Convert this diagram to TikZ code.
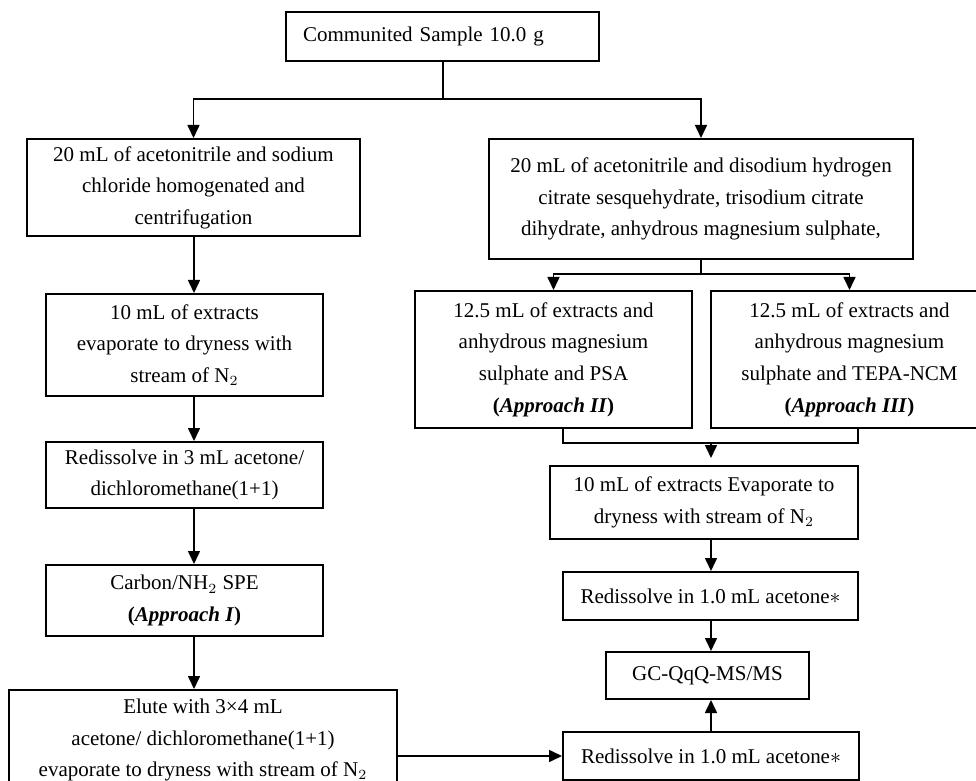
\documentclass[tikz,border=0pt]{standalone}
\usepackage{fontspec}
\setmainfont{Liberation Serif}
\usepackage{tikz}
\usetikzlibrary{arrows.meta,positioning,calc}

\begin{document}
\begin{tikzpicture}[x=0.5pt, y=-0.5pt,
        stepbox/.style={draw, line width=1pt, align=center, inner sep=2pt,
            font=\fontsize{10.5}{15.8}\selectfont},
        flow/.style={line width=0.8pt},
        flowarrow/.style={flow, -{Triangle[length=6.5pt,width=6pt]}}]
    \useasboundingbox (0,0) rectangle (976,781);
    \clip (0,0) rectangle (976,781);

    % sample
    \node[stepbox, minimum width=156.5pt, minimum height=24.5pt, text width=139.5pt,
        align=left, inner xsep=8.5pt] (sample) at (442.5,36.5) {Communited Sample 10.0 g};

    % left branch (Approach I)
    \node[stepbox, minimum width=166.5pt, minimum height=48.5pt] (acnacl) at (193.5,187.5)
        {20 mL of acetonitrile and sodium\\chloride homogenated and\\centrifugation};
    \node[stepbox, minimum width=138.5pt, minimum height=51pt] (evapleft) at (184.5,345)
        {10 mL of extracts\\evaporate to dryness with\\stream of N$_2$};
    \node[stepbox, minimum width=138.5pt, minimum height=33pt] (redissleft) at (184.5,475)
        {Redissolve in 3 mL acetone/\\dichloromethane(1+1)};
    \node[stepbox, minimum width=138.5pt, minimum height=35.5pt] (spe) at (184.5,600.5)
        {Carbon/NH$_2$ SPE\\\textbf{(\textit{Approach I})}};
    \node[stepbox, minimum width=194pt, minimum height=50pt] (elute) at (203,740)
        {Elute with 3×4 mL\\acetone/ dichloromethane(1+1)\\evaporate to dryness with stream of N$_2$};

    % right branch (Approach II and III)
    \node[stepbox, minimum width=212pt, minimum height=60pt] (acncitrate) at (701,199)
        {20 mL of acetonitrile and disodium hydrogen\\citrate sesquehydrate, trisodium citrate\\dihydrate, anhydrous magnesium sulphate,};
    \node[stepbox, minimum width=138.5pt, minimum height=68.5pt] (psa) at (553.5,359.5)
        {12.5 mL of extracts and\\anhydrous magnesium\\sulphate and PSA\\\textbf{(\textit{Approach II})}};
    \node[stepbox, minimum width=138.5pt, minimum height=68.5pt] (tepa) at (849.5,359.5)
        {12.5 mL of extracts and\\anhydrous magnesium\\sulphate and TEPA-NCM\\\textbf{(\textit{Approach III})}};
    \node[stepbox, minimum width=154pt, minimum height=36.5pt] (evapright) at (704,502.5)
        {10 mL of extracts Evaporate to\\dryness with stream of N$_2$};
    \node[stepbox, minimum width=147.5pt, minimum height=24pt] (redissright) at (710.5,596)
        {Redissolve in 1.0 mL acetone$*$};
    \node[stepbox, minimum width=101.5pt, minimum height=23.5pt] (gcms) at (707.5,675.5)
        {GC-QqQ-MS/MS};
    \node[stepbox, minimum width=148pt, minimum height=24pt] (redisslow) at (711,756)
        {Redissolve in 1.0 mL acetone$*$};

    % junctions
    \coordinate (split) at (443,99);
    \coordinate (lefttrunk) at (194,0);
    \coordinate (split2) at (701,274);
    \coordinate (joinl) at (563,443);
    \coordinate (joinr) at (858,443);
    \coordinate (righttrunk) at (711,443);

    % connectors
    \draw[flow] (sample.south -| split) -- (split);
    \draw[flowarrow] (split) -| (acnacl.north);
    \draw[flowarrow] (split) -| (acncitrate.north);
    \draw[flowarrow] (acnacl.south -| lefttrunk) -- (evapleft.north -| lefttrunk);
    \draw[flowarrow] (evapleft.south -| lefttrunk) -- (redissleft.north -| lefttrunk);
    \draw[flowarrow] (redissleft.south -| lefttrunk) -- (spe.north -| lefttrunk);
    \draw[flowarrow] (spe.south -| lefttrunk) -- (elute.north -| lefttrunk);
    \draw[flow] (acncitrate.south) -- (split2);
    \draw[flowarrow] (split2) -| (psa.north);
    \draw[flowarrow] (split2) -| (tepa.north);
    \draw[flow] (psa.south -| joinl) -- (joinl) -- (joinr) -- (tepa.south -| joinr);
    \draw[flowarrow, shorten >=3.5pt] (righttrunk) -- (evapright.north -| righttrunk);
    \draw[flowarrow] (evapright.south -| righttrunk) -- (redissright.north -| righttrunk);
    \draw[flowarrow] (redissright.south -| righttrunk) -- (gcms.north -| righttrunk);
    \draw[flowarrow] (redisslow.north -| righttrunk) -- (gcms.south -| righttrunk);
    \draw[flowarrow] (elute.east |- redisslow.west) -- (redisslow.west);
\end{tikzpicture}
\end{document}
